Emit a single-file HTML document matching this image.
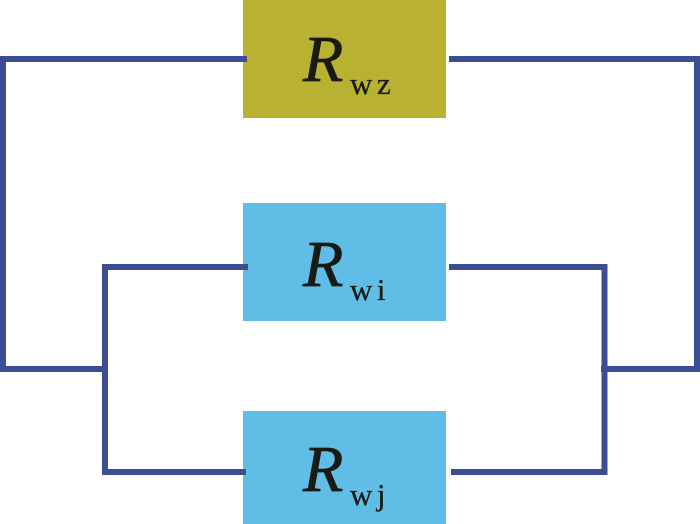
<!DOCTYPE html>
<html><head><meta charset="utf-8"><style>
html,body{margin:0;padding:0;background:#fff}
body{width:700px;height:524px;overflow:hidden}
svg{display:block}
.r{font:italic 66px "Liberation Serif",serif;fill:#1a1a14;stroke:#1a1a14;stroke-width:.7px}
.s{font:31px "Liberation Serif",serif;fill:#1a1a14;stroke:#1a1a14;stroke-width:.3px;letter-spacing:4.5px}
</style></head><body>
<svg width="700" height="524" viewBox="0 0 700 524" xmlns="http://www.w3.org/2000/svg">
<rect x="243" y="0" width="203" height="118" fill="#b8b132"/>
<rect x="243" y="203" width="203" height="118" fill="#60bde6"/>
<rect x="243" y="411" width="203" height="113" fill="#60bde6"/>
<g fill="none" stroke="#3d4d94" stroke-width="6" stroke-linejoin="miter">
<path d="M247 59H3V369H105"/>
<path d="M248 267H105V472H246"/>
<path d="M449 59H697V369H601"/>
<path d="M449 267H604.500V472H451"/>
</g>
<text class="r" x="303" y="81">R</text><text class="s" x="350" y="94">wz</text>
<text class="r" x="303" y="286">R</text><text class="s" x="350" y="300">wi</text>
<text class="r" x="303" y="491">R</text><text class="s" x="350" y="505">wj</text>
</svg>
</body></html>
